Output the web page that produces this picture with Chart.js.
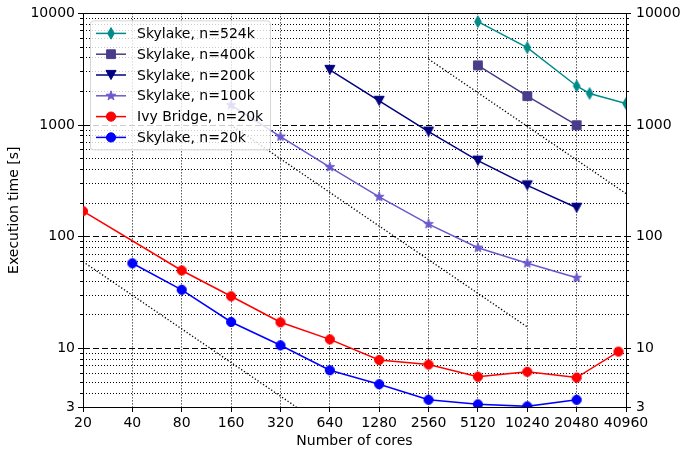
<!DOCTYPE html>
<html>
<head>
<meta charset="utf-8">
<script src="https://cdn.jsdelivr.net/npm/chart.js@4/dist/chart.umd.min.js"></script>
<style>
  html, body { margin: 0; padding: 0; background: #fff; }
</style>
</head>
<body>
<canvas id="chart" width="681" height="450"></canvas>
<script>
// axis ticks
const coreTicks = [20, 40, 80, 160, 320, 640, 1280, 2560, 5120, 10240, 20480, 40960];
const timeTicks = [3, 10, 100, 1000, 10000];
const minorTimeTicks = [4, 5, 6, 7, 8, 9, 20, 30, 40, 50, 60, 70, 80, 90,
  200, 300, 400, 500, 600, 700, 800, 900, 2000, 3000, 4000, 5000, 6000, 7000, 8000, 9000];

// measured series (cores -> seconds)
const seriesLabels = ["Skylake, n=524k", "Skylake, n=400k", "Skylake, n=200k",
  "Skylake, n=100k", "Ivy Bridge, n=20k", "Skylake, n=20k"];

const sky524Cores = [5120, 10240, 20480, 24576, 40960];
const sky524Time = [8440, 4940, 2240, 1920, 1560];

const sky400Cores = [5120, 10240, 20480];
const sky400Time = [3430, 1820, 1000];

const sky200Cores = [640, 1280, 2560, 5120, 10240, 20480];
const sky200Time = [3120, 1650, 875, 481, 289, 182];

const sky100Cores = [160, 320, 640, 1280, 2560, 5120, 10240, 20480];
const sky100Time = [1510, 790, 421, 228, 130, 80, 58, 43];

const ivyCores = [20, 80, 160, 320, 640, 1280, 2560, 5120, 10240, 20480, 36864];
const ivyTime = [170, 50, 29.4, 17.2, 12.1, 7.9, 7.2, 5.6, 6.2, 5.5, 9.4];

const sky20Cores = [40, 80, 160, 320, 640, 1280, 2560, 5120, 10240, 20480];
const sky20Time = [58, 33.6, 17.3, 10.7, 6.4, 4.8, 3.48, 3.17, 3.04, 3.48];

// ideal scaling guides (dotted)
const ideal1Cores = [20, 400];
const ideal1Time = [60, 3];
const ideal2Cores = [160, 10240];
const ideal2Time = [1000, 15.6];
const ideal3Cores = [2560, 40960];
const ideal3Time = [3900, 244];

const fnt = { family: "DejaVu Sans", size: 14 };

// marker shapes like matplotlib's d, s, v, *, o
function markerPath(g, kind, cx, cy) {
  g.beginPath();
  if (kind === "circle") {
    g.arc(cx, cy, 4.6, 0, Math.PI * 2);
  } else if (kind === "square") {
    g.rect(cx - 4.4, cy - 4.4, 8.8, 8.8);
  } else if (kind === "tridown") {
    g.moveTo(cx - 5, cy - 4.6); g.lineTo(cx + 5, cy - 4.6); g.lineTo(cx, cy + 4.6); g.closePath();
  } else if (kind === "thindiamond") {
    g.moveTo(cx, cy - 5.8); g.lineTo(cx + 3.3, cy); g.lineTo(cx, cy + 5.8); g.lineTo(cx - 3.3, cy); g.closePath();
  } else if (kind === "star") {
    for (let k = 0; k < 10; k++) {
      const r = k % 2 === 0 ? 5 : 2;
      const a = -Math.PI / 2 + k * Math.PI / 5;
      const px = cx + r * Math.cos(a), py = cy + r * Math.sin(a);
      if (k === 0) g.moveTo(px, py); else g.lineTo(px, py);
    }
    g.closePath();
  }
}

function makeMarker(kind, color) {
  const c = document.createElement("canvas");
  c.width = 14; c.height = 14;
  const g = c.getContext("2d");
  g.fillStyle = color; g.strokeStyle = color; g.lineWidth = 1;
  markerPath(g, kind, 7, 7);
  g.fill(); g.stroke();
  return c;
}

const seriesCores = [sky524Cores, sky400Cores, sky200Cores, sky100Cores, ivyCores, sky20Cores];
const seriesTimes = [sky524Time, sky400Time, sky200Time, sky100Time, ivyTime, sky20Time];
const seriesColors = ["#008b8b", "#483d8b", "#000080", "#6a5acd", "#ff0000", "#0000ff"];
const seriesMarkers = ["thindiamond", "square", "tridown", "star", "circle", "circle"];

const pts = (cores, times) => cores.map((c, i) => ({ x: c, y: times[i] }));

const datasets = seriesLabels.map((lab, i) => ({
  label: lab,
  data: pts(seriesCores[i], seriesTimes[i]),
  borderColor: seriesColors[i],
  backgroundColor: seriesColors[i],
  borderWidth: 1.5,
  pointStyle: makeMarker(seriesMarkers[i], seriesColors[i]),
  pointRadius: 5,
  pointHoverRadius: 5,
  fill: false,
  tension: 0
}));

[[ideal1Cores, ideal1Time], [ideal2Cores, ideal2Time], [ideal3Cores, ideal3Time]].forEach(([c, t]) => {
  datasets.push({
    label: "",
    data: pts(c, t),
    borderColor: "#000",
    borderWidth: 1.3,
    borderDash: [1.3, 2],
    pointRadius: 0,
    fill: false,
    order: 10
  });
});

// legend box drawn inside the plot, matplotlib style
const legendBox = {
  id: "legendBox",
  afterDraw(c) {
    const ctx = c.ctx;
    const x0 = c.chartArea.left + 7.5, y0 = c.chartArea.top + 7.5;
    const w = 180, h = 129, r = 3;
    ctx.save();
    ctx.beginPath();
    ctx.moveTo(x0 + r, y0);
    ctx.arcTo(x0 + w, y0, x0 + w, y0 + h, r);
    ctx.arcTo(x0 + w, y0 + h, x0, y0 + h, r);
    ctx.arcTo(x0, y0 + h, x0, y0, r);
    ctx.arcTo(x0, y0, x0 + w, y0, r);
    ctx.closePath();
    ctx.fillStyle = "rgba(255,255,255,0.8)";
    ctx.fill();
    ctx.strokeStyle = "rgba(204,204,204,0.8)";
    ctx.lineWidth = 1;
    ctx.stroke();
    ctx.font = "14px 'DejaVu Sans'";
    ctx.textBaseline = "middle";
    ctx.textAlign = "left";
    seriesLabels.forEach((lab, i) => {
      const y = y0 + 12.5 + i * 20.8;
      ctx.strokeStyle = seriesColors[i];
      ctx.lineWidth = 1.5;
      ctx.beginPath();
      ctx.moveTo(x0 + 5.5, y); ctx.lineTo(x0 + 35.5, y);
      ctx.stroke();
      ctx.fillStyle = seriesColors[i];
      ctx.lineWidth = 1;
      markerPath(ctx, seriesMarkers[i], x0 + 20.5, y);
      ctx.fill(); ctx.stroke();
      ctx.fillStyle = "#000";
      ctx.fillText(lab, x0 + 46.5, y + 1);
    });
    ctx.restore();
  }
};

const setTicks = list => s => { s.ticks = list.map(v => ({ value: v })); };

new Chart(document.getElementById("chart"), {
  type: "line",
  data: { datasets: datasets },
  plugins: [legendBox],
  options: {
    responsive: false,
    animation: false,
    layout: { padding: { top: 11, left: 0, right: 0, bottom: 0 } },
    plugins: { legend: { display: false }, tooltip: { enabled: false } },
    scales: {
      x: {
        type: "logarithmic", position: "bottom", min: 20, max: 40960,
        afterBuildTicks: setTicks(coreTicks),
        afterFit: s => { s.height = 43; },
        ticks: { autoSkip: false, maxRotation: 0, minRotation: 0, padding: 3, color: "#000", font: fnt,
          callback: v => String(v) },
        grid: { color: "#000", lineWidth: 1, tickLength: 5, tickColor: "#000", tickWidth: 1 },
        border: { display: true, color: "#000", width: 1, dash: [1, 2] },
        title: { display: true, text: "Number of cores", color: "#000", font: fnt, padding: { top: 0, bottom: 0 } }
      },
      xTop: {
        type: "logarithmic", position: "top", min: 20, max: 40960,
        afterFit: s => { s.height = 0; },
        ticks: { display: false },
        grid: { drawOnChartArea: false, drawTicks: false },
        border: { display: true, color: "#000", width: 1 }
      },
      y: {
        type: "logarithmic", position: "left", min: 3, max: 10000, weight: 1,
        afterBuildTicks: setTicks(timeTicks),
        afterFit: s => { s.width = 83; },
        ticks: { autoSkip: false, padding: 3, color: "#000", font: fnt, callback: v => String(v) },
        grid: { color: "#000", lineWidth: 1, tickLength: 5, tickColor: "#000", tickWidth: 1 },
        border: { display: true, color: "#000", width: 1, dash: [6, 3] },
        title: { display: true, text: "Execution time [s]", color: "#000", font: fnt, padding: { top: 6, bottom: 0 } }
      },
      yMinor: {
        type: "logarithmic", position: "left", min: 3, max: 10000, weight: 0,
        afterBuildTicks: setTicks(minorTimeTicks),
        afterFit: s => { s.width = 0; },
        ticks: { display: false },
        grid: { color: "#000", lineWidth: 1, tickLength: 3, tickColor: "#000", tickWidth: 1 },
        border: { display: false, dash: [1, 2] }
      },
      y2: {
        type: "logarithmic", position: "right", min: 3, max: 10000, weight: 1,
        afterBuildTicks: setTicks(timeTicks),
        afterFit: s => { s.width = 55; },
        ticks: { autoSkip: false, padding: 5, color: "#000", font: fnt, callback: v => String(v) },
        grid: { drawOnChartArea: false, tickLength: 5, tickColor: "#000", tickWidth: 1 },
        border: { display: true, color: "#000", width: 1 }
      },
      y2Minor: {
        type: "logarithmic", position: "right", min: 3, max: 10000, weight: 0,
        afterBuildTicks: setTicks(minorTimeTicks),
        afterFit: s => { s.width = 0; },
        ticks: { display: false },
        grid: { drawOnChartArea: false, tickLength: 3, tickColor: "#000", tickWidth: 1 },
        border: { display: false }
      }
    }
  }
});
</script>
</body>
</html>
